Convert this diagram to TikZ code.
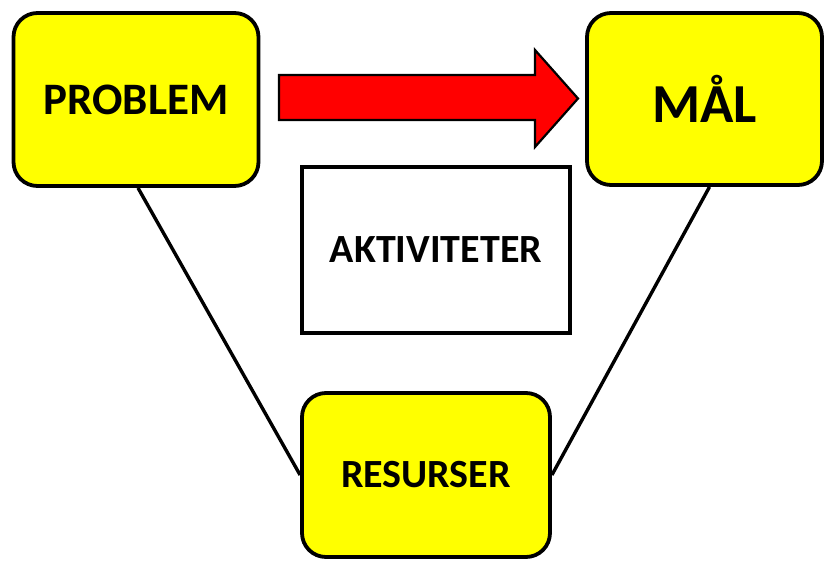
\documentclass[tikz,border=0pt]{standalone}
\usepackage{fontspec}
\setmainfont{Carlito}
\definecolor{boxyellow}{RGB}{255,255,0}
\definecolor{arrowred}{RGB}{255,0,0}
\begin{document}
\begin{tikzpicture}[x=1pt,y=-1pt,
  ybox/.style={draw=black, line width=3.8pt, fill=boxyellow, rounded corners=24pt, inner sep=0pt, font=\bfseries},
  wbox/.style={draw=black, line width=3.8pt, fill=white, inner sep=0pt, font=\bfseries},
  conn/.style={draw=black, line width=3.4pt},
  bigarrow/.style={draw=black, line width=2.2pt, fill=arrowred, line join=miter}]
\useasboundingbox (0,0) rectangle (825,560);
\node[ybox, minimum width=245pt, minimum height=173pt, font=\bfseries\fontsize{45}{50}\selectfont] (prob) at (136,99.5) {PROBLEM};
\node[ybox, minimum width=235pt, minimum height=172pt, font=\bfseries\fontsize{55}{60}\selectfont] (mal) at (704.5,99) {MÅL};
\node[wbox, minimum width=268pt, minimum height=166pt, font=\bfseries\fontsize{40}{44}\selectfont] (akt) at (436,250) {\raisebox{-2pt}{AKTIVITETER}};
\node[ybox, minimum width=248pt, minimum height=164pt, font=\bfseries\fontsize{40}{44}\selectfont] (res) at (426,475) {\raisebox{-5pt}{RESURSER}};
\draw[conn] ([xshift=2pt]prob.south) -- (res.west);
\draw[conn] ([xshift=5pt]mal.south) -- (res.east);
\draw[bigarrow] (279,75) -- (535,75) -- (535,50) -- (578,98.5) -- (535,147) -- (535,120) -- (279,120) -- cycle;
\end{tikzpicture}
\end{document}
